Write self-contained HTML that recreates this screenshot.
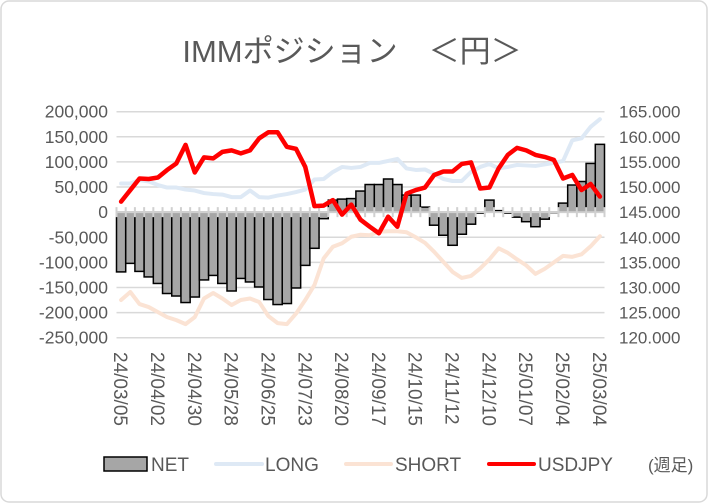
<!DOCTYPE html>
<html><head><meta charset="utf-8"><style>
body{margin:0;background:#fff;}
#wrap{position:relative;width:709px;height:504px;overflow:hidden;font-family:"Liberation Sans","Noto Sans CJK JP",sans-serif;}
</style></head><body>
<div id="wrap">
<svg id="chart" width="709" height="504" xmlns="http://www.w3.org/2000/svg">
<rect x="1" y="1" width="706" height="501" rx="8" fill="#fff" stroke="#d9d9d9" stroke-width="1.5"/>
<text x="352" y="62" text-anchor="middle" font-size="31" fill="#595959" font-family="Liberation Sans, Noto Sans CJK JP, sans-serif">IMMポジション　＜円＞</text>
<g id="grid"></g><g id="bars"></g><g id="axis"></g><g id="lines"></g><g id="labels"></g>
<g font-size="19" fill="#595959">
<rect x="104" y="457" width="43" height="14" fill="#a6a6a6" stroke="#000" stroke-width="1.5"/>
<text x="151" y="471">NET</text>
<line x1="216" y1="464" x2="262" y2="464" stroke="#dee9f5" stroke-width="4" stroke-linecap="round"/>
<text x="265" y="471">LONG</text>
<line x1="346" y1="464" x2="391" y2="464" stroke="#fbe3d4" stroke-width="4" stroke-linecap="round"/>
<text x="395" y="471">SHORT</text>
<line x1="489" y1="464" x2="534" y2="464" stroke="#ff0000" stroke-width="4" stroke-linecap="round"/>
<text x="538" y="471">USDJPY</text>
<text x="648" y="471" font-size="17" font-family="Liberation Sans, Noto Sans CJK JP, sans-serif">(週足)</text>
</g>
</svg>
</div>
<script>
const dates=["24/03/05","24/04/02","24/04/30","24/05/28","24/06/25","24/07/23","24/08/20","24/09/17","24/10/15","24/11/12","24/12/10","25/01/07","25/02/04","25/03/04"];
const leftTicks=["200,000","150,000","100,000","50,000","0","-50,000","-100,000","-150,000","-200,000","-250,000"];
const rightTicks=["165.000","160.000","155.000","150.000","145.000","140.000","135.000","130.000","125.000","120.000"];
const net=[-119,-102,-118,-129,-142,-162,-167,-180,-169,-135,-126,-142,-157,-132,-139,-149,-174,-184,-182,-151,-106,-72,-13,24,26,27,42,55,55,66,55,34,34,10,-26,-46,-66,-44,-24,-2,24,3,-2,-10,-19,-29,-14,-1,18,54,61,97,135];
const longPos=[57,57,64,61,54,49,49,45,43,38,36,35,30,30,43,30,29,33,36,40,45,65,66,80,90,88,90,98,98,102,106,87,84,85,76,66,62,62,80,90,96,87,90,94,93,92,95,98,102,143,147,170,185];
const shortPos=[-175,-159,-183,-189,-199,-209,-215,-223,-209,-172,-161,-172,-185,-175,-172,-179,-207,-221,-223,-202,-175,-145,-92,-69,-62,-49,-45,-46,-39,-38,-38,-40,-50,-61,-79,-99,-119,-131,-127,-112,-94,-72,-81,-94,-106,-123,-113,-100,-87,-89,-84,-68,-48];
const usdjpy=[147.1,149.4,151.7,151.6,151.9,153.4,154.7,158.4,152.9,155.9,155.7,157.0,157.3,156.7,157.3,159.7,160.9,160.9,158.0,157.6,154.0,146.2,146.3,147.4,144.5,146.5,143.5,142.1,140.8,144.1,142.1,148.7,149.4,149.9,152.4,153.1,153.1,154.6,154.9,149.7,149.9,153.7,156.4,157.8,157.3,156.4,156.0,155.4,151.7,152.4,149.4,150.6,148.1];
const NS="http://www.w3.org/2000/svg";
const X0=116.5,X1=604.5,YT=111.7,YB=337.7;
const n=net.length,bw=(X1-X0)/n;
const yL=v=>YT+(200-v)/450*(YB-YT);   // v in thousands
const yR=v=>YT+(165-v)/45*(YB-YT);
const xC=i=>X0+bw*(i+0.5);
function mk(tag,par,attrs){const e=document.createElementNS(NS,tag);for(const k in attrs)e.setAttribute(k,attrs[k]);document.getElementById(par).appendChild(e);return e;}
leftTicks.forEach((t,i)=>{const y=YT+i*(YB-YT)/9;
 if(t!=="0"){const g=mk('line','grid',{x1:X0,x2:X1,y1:y,y2:y,stroke:'#d9d9d9','stroke-width':1.5});
 
 }
 const a=mk('text','labels',{x:108,y:y+6,'text-anchor':'end','font-size':17.5,fill:'#595959'});a.textContent=t;
 
 
 const b=mk('text','labels',{x:619,y:y+6,'font-size':17,fill:'#595959'});b.textContent=rightTicks[i];
 
 });
net.forEach((v,i)=>{const y0=yL(0),y1=yL(v);
 const r=mk('rect','bars',{x:X0+bw*i,y:Math.min(y0,y1),width:bw,height:Math.abs(y1-y0),fill:'#a6a6a6',stroke:'#000','stroke-width':1.5});
 
 });
const z=yL(0);
const zl=mk('line','axis',{x1:X0,x2:X1,y1:z,y2:z,stroke:'#d0d0d0','stroke-width':2});


for(let i=0;i<=n;i++){const t=mk('line','axis',{x1:X0+bw*i,x2:X0+bw*i,y1:z-5,y2:z+5,stroke:'#d0d0d0','stroke-width':2});
 
 }
function line(arr,fy,color,w,name){const p=mk('polyline','lines',{points:arr.map((v,i)=>xC(i)+','+fy(v)).join(' '),fill:'none',stroke:color,'stroke-width':w,'stroke-linejoin':'round','stroke-linecap':'round'});
 
 }
line(longPos,yL,'#dee9f5',4,'long-line');
line(shortPos,yL,'#fbe3d4',4,'short-line');
line(usdjpy,yR,'#ff0000',4.5,'usdjpy-line');
dates.forEach((d,j)=>{const x=xC(j*4)-7;const t=mk('text','labels',{x:0,y:0,'font-size':19,fill:'#595959',transform:`translate(${x},352) rotate(90)`});t.textContent=d;
 
 });
</script>
</body></html>
